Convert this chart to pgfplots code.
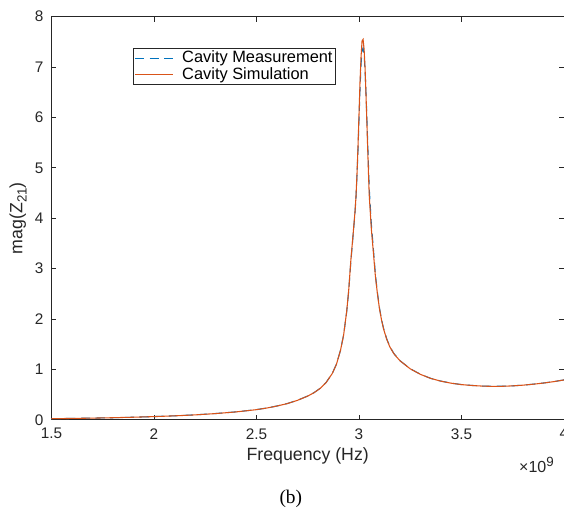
\documentclass[border=0pt]{standalone}
\usepackage{pgfplots}
\pgfplotsset{compat=1.18}
\usepackage{fontspec}
\setmainfont{Liberation Sans}
\newfontfamily\capfont{Liberation Serif}
\definecolor{mblue}{RGB}{0,114,189}
\definecolor{morange}{RGB}{217,83,25}
\definecolor{axgray}{RGB}{38,38,38}

\pgfplotstableread{
f z
1.50 0.020
1.60 0.026
1.70 0.032
1.80 0.040
1.90 0.050
2.00 0.063
2.10 0.078
2.20 0.097
2.30 0.123
2.40 0.156
2.50 0.201
2.55 0.233
2.60 0.273
2.65 0.321
2.70 0.386
2.75 0.471
2.78 0.536
2.81 0.622
2.84 0.742
2.87 0.922
2.89 1.102
2.91 1.382
2.925 1.682
2.94 2.140
2.95 2.560
2.96 3.120
2.97 3.600
2.98 4.080
2.985 4.380
2.99 4.820
2.995 5.330
3.00 5.950
3.005 6.550
3.01 7.050
3.015 7.330
3.02 7.380
3.025 7.250
3.03 6.900
3.035 6.400
3.04 5.800
3.045 5.200
3.05 4.600
3.06 3.900
3.07 3.400
3.08 2.880
3.09 2.520
3.10 2.220
3.11 1.990
3.12 1.810
3.135 1.610
3.15 1.455
3.17 1.315
3.20 1.172
3.25 1.012
3.30 0.902
3.35 0.821
3.40 0.766
3.45 0.726
3.50 0.698
3.55 0.681
3.60 0.669
3.65 0.663
3.70 0.665
3.75 0.673
3.80 0.687
3.85 0.706
3.90 0.729
3.95 0.757
4.00 0.791
}\measured

\pgfplotstableread{
f z
1.50 0.020
1.60 0.026
1.70 0.032
1.80 0.040
1.90 0.050
2.00 0.062
2.10 0.077
2.20 0.096
2.30 0.122
2.40 0.155
2.50 0.200
2.55 0.232
2.60 0.272
2.65 0.320
2.70 0.385
2.75 0.470
2.78 0.535
2.81 0.620
2.84 0.740
2.87 0.920
2.89 1.100
2.91 1.380
2.925 1.680
2.94 2.150
2.95 2.580
2.96 3.150
2.97 3.620
2.98 4.100
2.985 4.400
2.99 4.850
2.995 5.400
3.00 6.050
3.005 6.700
3.01 7.200
3.015 7.520
3.02 7.550
3.025 7.350
3.03 6.950
3.035 6.350
3.04 5.700
3.045 5.050
3.05 4.450
3.06 3.800
3.07 3.330
3.08 2.850
3.09 2.500
3.10 2.200
3.11 1.980
3.12 1.800
3.135 1.600
3.15 1.450
3.17 1.310
3.20 1.170
3.25 1.010
3.30 0.900
3.35 0.820
3.40 0.765
3.45 0.725
3.50 0.697
3.55 0.680
3.60 0.668
3.65 0.662
3.70 0.664
3.75 0.672
3.80 0.686
3.85 0.705
3.90 0.728
3.95 0.756
4.00 0.790
}\simulated

\begin{document}
\begin{tikzpicture}
\begin{axis}[
    at={(0,0)}, anchor=south west,
    scale only axis,
    width=384.4pt, height=302.3pt,
    xmin=1.5, xmax=4, ymin=0, ymax=8,
    xtick={1.5,2,...,4}, ytick={0,1,...,8},
    xticklabels={1.5,2,2.5,3,3.5,4},
    tick align=inside,
    major tick length=3.75pt,
    clip mode=individual,
    axis line style={axgray, line width=0.5pt},
    every tick/.style={axgray, line width=0.5pt},
    tick label style={font=\fontsize{11.5}{13}\selectfont, text=axgray},
    xticklabel style={yshift=-3pt},
    yticklabel style={xshift=-2.5pt},
    /pgf/number format/assume math mode=true,
    xlabel={Frequency (Hz)},
    ylabel={mag(Z\raisebox{-0.45ex}{\fontsize{10}{10}\selectfont 21})},
    label style={font=\fontsize{13.3}{15}\selectfont, text=axgray},
    xlabel style={at={(axis description cs:0.5,-0.09)}, anchor=center},
    ylabel style={at={(axis description cs:-0.065,0.5)}, anchor=center},
    legend cell align=left,
    legend style={at={(rel axis cs:0,1)}, anchor=north west,
        xshift=61pt, yshift=-23.5pt,
        font=\fontsize{12.3}{12.5}\selectfont,
        draw=axgray, line width=0.5pt,
        inner sep=1pt, row sep=0pt,
        nodes={inner sep=1pt, text height=8.8pt, text depth=1.8pt}},
    legend image code/.code={\draw[#1] (0pt,0pt) -- (28.5pt,0pt);
        \path (34pt,0pt);},
]
\addplot[mblue, line width=0.8pt, dash pattern=on 7pt off 4pt] table[x=f, y=z] {\measured};
\addlegendentry{Cavity Measurement}
\addplot[morange, line width=0.8pt] table[x=f, y=z] {\simulated};
\addlegendentry{Cavity Simulation}
\node[anchor=east, inner sep=0pt, font=\fontsize{12}{13}\selectfont, text=axgray] at (rel axis cs:1,0) [xshift=-7.5pt, yshift=-34pt] {×10\raisebox{0.75ex}{\fontsize{10}{10}\selectfont 9}};
\node[font=\capfont\fontsize{14.5}{16}\selectfont] at (rel axis cs:0.467,0) [yshift=-59pt] {(b)};
\end{axis}
\pgfresetboundingbox
\path[use as bounding box] (-38.6pt,-70.5pt) rectangle (384.4pt,314.8pt);
\end{tikzpicture}
\end{document}
